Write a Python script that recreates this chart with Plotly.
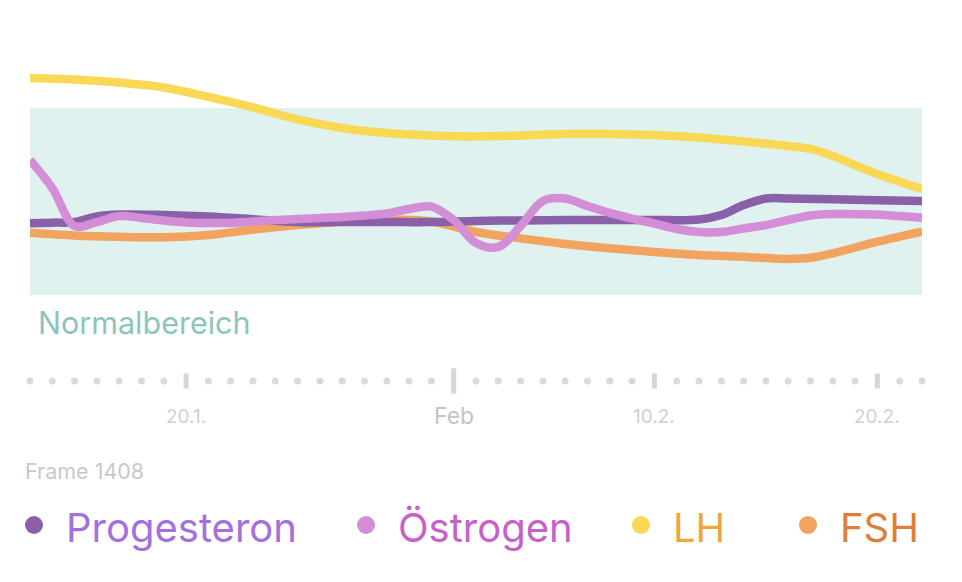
import pandas as pd
import plotly.graph_objects as go

# ---------------- data ----------------
start = pd.Timestamp("2024-01-13")
end = pd.Timestamp("2024-02-22")

series_names = ["Progesteron", "Östrogen", "LH", "FSH"]

lh_days = [0, 2, 4, 6, 8, 10, 12, 14, 16, 18, 20, 22, 24, 26, 28, 30, 32, 34, 35, 36, 38, 40]
lh_vals = [116.0, 115.2, 113.6, 111.0, 105.9, 100.3, 93.9, 89.3, 86.6, 85.3, 84.8, 85.3,
           86.1, 86.1, 85.6, 84.2, 82.1, 79.7, 78.1, 74.3, 64.7, 56.7]

prog_days = [0, 1, 2, 3, 4, 6, 8, 10, 12, 14, 16, 18, 20, 22, 24, 26, 28, 30, 31, 32, 33, 34, 36, 38, 40]
prog_vals = [38.4, 38.7, 39.0, 42.0, 43.0, 42.8, 42.0, 40.5, 39.0, 39.0, 39.0, 39.0, 39.6,
             39.9, 40.1, 40.1, 40.1, 40.4, 42.8, 48.1, 51.6, 51.6, 51.2, 50.7, 50.3]

oest_days = list(range(0, 41))
oest_vals = [72.2, 57.2, 36.9, 39.0, 42.2, 41.2, 39.8, 38.8, 38.5, 38.5, 39.3, 40.1, 40.6,
             41.2, 41.7, 42.5, 43.6, 46.0, 47.3, 40.1, 27.8, 25.7, 36.9, 50.3, 51.6, 47.6,
             43.9, 40.9, 38.2, 35.3, 33.7, 33.7, 35.6, 37.4, 40.1, 42.5, 43.3, 43.2, 43.0,
             42.2, 41.3]

fsh_days = [0, 2, 4, 6, 8, 10, 12, 14, 16, 18, 20, 22, 24, 26, 28, 30, 32, 34, 35, 36, 38, 40]
fsh_vals = [33.3, 31.8, 31.1, 30.9, 32.1, 35.0, 37.4, 39.3, 40.4, 39.3, 33.7, 30.3, 27.3,
            25.0, 23.0, 21.4, 20.5, 19.3, 19.9, 22.3, 28.5, 33.9]

normal_low, normal_high = 0, 100
normal_label = "Normalbereich"

tick_major = ["2024-01-20", "2024-02-01", "2024-02-10", "2024-02-20"]
tick_labels = ["20.1.", "Feb", "10.2.", "20.2."]
frame_label = "Frame 1408"

# ---------------- style ----------------
W, H = 962, 582
FONT = "Inter"
line_colors = {"Progesteron": "#8a61a9", "Östrogen": "#d48ed8", "LH": "#f8d855", "FSH": "#f1a35f"}
text_colors = {"Progesteron": "#a470dd", "Östrogen": "#c95fca", "LH": "#eaa93a", "FSH": "#dd7f3a"}


def py(p):  # pixel row -> paper fraction
    return 1 - p / H


def px(p):
    return p / W


def dates(days):
    return [start + pd.Timedelta(days=d) for d in days]


fig = go.Figure()

data = {
    "FSH": (fsh_days, fsh_vals),
    "Progesteron": (prog_days, prog_vals),
    "Östrogen": (oest_days, oest_vals),
    "LH": (lh_days, lh_vals),
}
for name, (d, v) in data.items():
    fig.add_trace(go.Scatter(
        x=dates(d), y=v, mode="lines", name=name,
        line=dict(color=line_colors[name], width=8.5, shape="spline", smoothing=1.0),
        hoverinfo="skip", showlegend=False,
    ))

# tick row: dots for each day, bars at labelled days
all_days = pd.date_range(start, end, freq="D")
major = pd.to_datetime(tick_major)
minor_days = [d for d in all_days if d not in set(major)]
fig.add_trace(go.Scatter(
    x=minor_days, y=[0] * len(minor_days), yaxis="y2", mode="markers",
    marker=dict(symbol="circle", size=7, color="#dadada"),
    hoverinfo="skip", showlegend=False, cliponaxis=False,
))
for d, lab in zip(major, tick_labels):
    big = lab == "Feb"
    fig.add_trace(go.Scatter(
        x=[d, d], y=[-0.85, 0.85] if big else [-0.5, 0.5], yaxis="y2", mode="lines",
        line=dict(color="#d6d6d6", width=5),
        hoverinfo="skip", showlegend=False, cliponaxis=False,
    ))
    fig.add_annotation(
        x=d, y=py(416), xref="x", yref="paper", text=lab, showarrow=False,
        xanchor="center", yanchor="middle",
        font=dict(family=FONT, size=23 if big else 19, color="#c4c4c4" if big else "#cfcfcf"),
    )

# normal range band
fig.add_shape(type="rect", xref="x", yref="y", x0=start, x1=end,
              y0=normal_low, y1=normal_high, fillcolor="#e0f2ef", line_width=0, layer="below")
fig.add_annotation(x=px(36), y=py(322), xref="paper", yref="paper", text=normal_label,
                   showarrow=False, xanchor="left", yanchor="middle",
                   font=dict(family=FONT, size=30.5, color="#8ec4bb"))

fig.add_annotation(x=px(23), y=py(471), xref="paper", yref="paper", text=frame_label,
                   showarrow=False, xanchor="left", yanchor="middle",
                   font=dict(family=FONT, size=21.5, color="#c9c9c9"))

# custom legend
legend_x = [34, 366, 641, 808]
for name, lx in zip(series_names, legend_x):
    fig.add_shape(type="circle", xref="paper", yref="paper",
                  x0=px(lx - 9), x1=px(lx + 9), y0=py(534), y1=py(516),
                  fillcolor=line_colors[name], line_width=0)
    fig.add_annotation(x=px(lx + 30), y=py(527), xref="paper", yref="paper", text=name,
                       showarrow=False, xanchor="left", yanchor="middle",
                       font=dict(family=FONT, size=40, color=text_colors[name]))

# y axis: value 0 -> row 295, value 100 -> row 108
top_px, bot_px = 40, 300
scale = (295 - 108) / 100.0
fig.update_layout(
    width=W, height=H, autosize=False,
    margin=dict(l=0, r=0, t=0, b=0, pad=0),
    paper_bgcolor="white", plot_bgcolor="rgba(0,0,0,0)",
    xaxis=dict(domain=[px(30), px(922)], range=[start, end], visible=False, showgrid=False),
    yaxis=dict(domain=[py(bot_px), py(top_px)],
               range=[(295 - bot_px) / scale, (295 - top_px) / scale],
               visible=False, showgrid=False, zeroline=False),
    yaxis2=dict(domain=[py(396), py(366)], range=[-1, 1], visible=False,
                showgrid=False, zeroline=False, anchor="x"),
    showlegend=False,
)

fig.write_html("out.html", config={"displayModeBar": False},
               post_script="document.body.style.margin='0';document.body.style.overflow='hidden';")
